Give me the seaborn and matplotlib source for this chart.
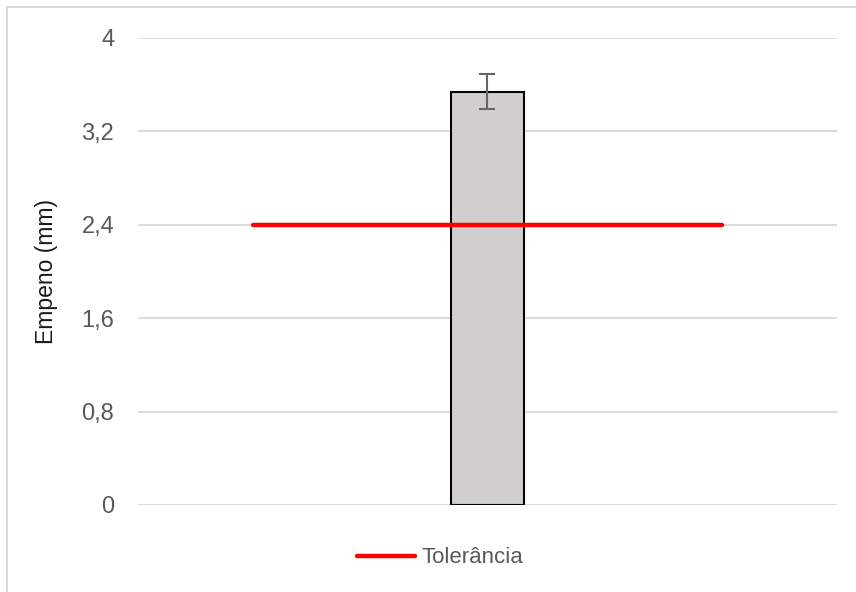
import seaborn as sns
import matplotlib.pyplot as plt
import matplotlib.patches as mpatches
import pandas as pd

# values
categories = ['']
empeno_mean = [3.54]
empeno_err = [0.148]
tolerancia = 2.4
y_ticks = [0, 0.8, 1.6, 2.4, 3.2, 4.0]
y_tick_labels = ['0', '0,8', '1,6', '2,4', '3,2', '4']

df = pd.DataFrame({'cat': categories, 'empeno': empeno_mean})

sns.set_theme(style="white")
plt.rcParams['font.family'] = ['Liberation Sans Narrow', 'Liberation Sans', 'DejaVu Sans']

fig = plt.figure(figsize=(8.56, 5.92), dpi=100)
ax = fig.add_axes([0.161, 0.147, 0.817, 0.789])

sns.barplot(data=df, x='cat', y='empeno', color='#d0cece', edgecolor='black',
            linewidth=1.5, width=0.104, saturation=1, errorbar=None, ax=ax, zorder=2)
ax.errorbar(x=[0], y=empeno_mean, yerr=empeno_err, fmt='none', ecolor='#666666',
            elinewidth=1.5, capsize=6, capthick=1.5, zorder=3)
ax.hlines(tolerancia, -0.335, 0.335, color='#ff0000', linewidth=3.2, zorder=4,
          capstyle='round', label='Tolerância')

ax.set_xlim(-0.5, 0.5)
ax.set_ylim(0, 4)
ax.set_yticks(y_ticks)
ax.set_yticklabels(y_tick_labels)
ax.yaxis.grid(True, color='#d9d9d9', linewidth=1.3, zorder=0)
ax.set_axisbelow(True)
for s in ax.spines.values():
    s.set_visible(False)
ax.tick_params(axis='y', length=0, pad=17, labelsize=17, labelcolor='#595959')
ax.set_xticks([])
ax.set_xlabel('')
ax.set_ylabel('Empeno (mm)', fontsize=16.5, color='#1a1a1a', labelpad=17)

fig.legend(handles=[plt.Line2D([], [], color='#ff0000', linewidth=3.2,
                                solid_capstyle='round')],
           labels=['Tolerância'], loc='center', bbox_to_anchor=(0.514, 0.0575),
           frameon=False, fontsize=16, handlelength=2.6, handletextpad=0.3,
           labelcolor='#595959')

# chart-area border (only left and top visible in the original crop)
fig.patches.append(mpatches.Rectangle((7 / 856, -0.1), 1.2, 1 - 7 / 592 + 0.1,
                                      transform=fig.transFigure, fill=False,
                                      edgecolor='#d9d9d9', linewidth=1.5))

fig.savefig('out.png', dpi=100)
